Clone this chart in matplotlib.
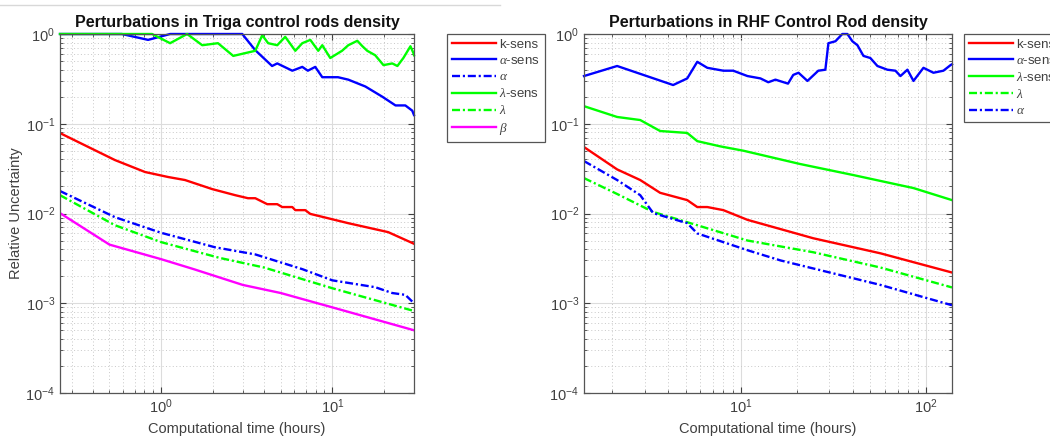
import numpy as np
import matplotlib
matplotlib.use("Agg")
from matplotlib import pyplot as plt
from matplotlib.lines import Line2D

plt.rcParams['font.family'] = ['Liberation Sans', 'DejaVu Sans']
plt.rcParams['mathtext.fontset'] = 'custom'
plt.rcParams['mathtext.rm'] = 'Liberation Sans'
plt.rcParams['mathtext.it'] = 'Liberation Serif:italic'
plt.rcParams['mathtext.default'] = 'regular'

# ---- Triga control rods (left) ----
tr_t_ksens = [0.257, 0.538, 0.806, 1.10, 1.38, 1.99, 2.71, 3.22, 3.55, 4.17, 4.77, 5.10, 5.84, 6.08, 6.95, 7.44, 12.4, 21.2, 30]
tr_ksens = [0.0787, 0.0394, 0.029, 0.0255, 0.0236, 0.0187, 0.016, 0.0148, 0.0148, 0.0127, 0.0127, 0.0118, 0.0118, 0.0109, 0.0109, 0.0099, 0.0078, 0.0062, 0.0046]

tr_t_asens = [0.257, 0.59, 0.84, 1.13, 2.98, 3.55, 4.45, 4.77, 5.84, 6.68, 7.2, 7.95, 8.74, 10.8, 12.4, 15.6, 19.6, 23.4, 26.7, 29.3, 30]
tr_asens = [1.0, 1.0, 0.86, 1.0, 1.0, 0.66, 0.44, 0.47, 0.39, 0.43, 0.39, 0.43, 0.33, 0.33, 0.31, 0.26, 0.20, 0.16, 0.16, 0.14, 0.125]

tr_t_alpha = [0.257, 0.538, 1.0, 2.07, 3.55, 6.68, 10.0, 17.8, 22.4, 26.7, 30]
tr_alpha = [0.0178, 0.0091, 0.0061, 0.0042, 0.0035, 0.0024, 0.0018, 0.00151, 0.0013, 0.00124, 0.00100]

tr_t_lsens = [0.257, 0.886, 1.129, 1.42, 1.74, 2.15, 2.64, 3.55, 3.90, 4.22, 4.77, 5.31, 6.08, 6.68, 7.44, 8.28, 8.74, 9.73, 11.4, 12.4, 14.0, 15.0, 16.0, 17.8, 19.9, 22.4, 24.0, 26.0, 28.6, 29.8, 30]
tr_lsens = [1.0, 1.0, 0.79, 1.0, 0.75, 0.79, 0.57, 0.65, 0.97, 0.79, 0.75, 0.93, 0.65, 0.79, 0.86, 0.65, 0.75, 0.54, 0.65, 0.75, 0.84, 0.73, 0.65, 0.58, 0.45, 0.47, 0.44, 0.54, 0.73, 0.61, 0.58]

tr_t_lam = [0.257, 0.538, 1.0, 2.2, 4.0, 10.0, 30]
tr_lam = [0.016, 0.0074, 0.0048, 0.0032, 0.0025, 0.00147, 0.00082]

tr_t_beta = [0.257, 0.50, 1.0, 1.55, 3.0, 5.0, 10.0, 30]
tr_beta = [0.0101, 0.0045, 0.0031, 0.0024, 0.0016, 0.0013, 0.0009, 0.0005]

# ---- RHF control rod (right) ----
rh_t_asens = [1.41, 2.13, 4.28, 5.10, 5.78, 6.55, 8.0, 9.05, 10.8, 12.7, 14.0, 15.3, 17.9, 19.1, 20.4, 22.8, 26.1, 28.5, 29.6, 32.3, 35.2, 37.5, 39.9, 42.5, 45.8, 49.9, 54.5, 61.7, 68.2, 72.6, 79.2, 85.4, 96.7, 109.5, 124, 135.5, 138]
rh_asens = [0.34, 0.44, 0.27, 0.32, 0.49, 0.42, 0.39, 0.39, 0.34, 0.32, 0.29, 0.31, 0.28, 0.35, 0.37, 0.30, 0.39, 0.40, 0.79, 0.83, 1.0, 1.0, 0.83, 0.75, 0.57, 0.54, 0.44, 0.40, 0.39, 0.34, 0.40, 0.30, 0.42, 0.37, 0.39, 0.45, 0.46]

rh_t_lsens = [1.41, 2.13, 2.84, 3.64, 5.10, 5.78, 7.69, 10.3, 20.8, 40.4, 85.4, 138]
rh_lsens = [0.157, 0.119, 0.11, 0.083, 0.079, 0.064, 0.056, 0.050, 0.0356, 0.0268, 0.0192, 0.0141]

rh_t_ksens = [1.41, 2.13, 2.84, 3.64, 5.10, 5.78, 6.55, 8.0, 10.8, 24.5, 56.6, 138]
rh_ksens = [0.055, 0.031, 0.0236, 0.017, 0.0141, 0.0118, 0.0118, 0.0109, 0.0085, 0.0053, 0.0036, 0.0022]

rh_t_lam = [1.41, 2.13, 3.34, 5.78, 10.8, 24.5, 56.6, 138]
rh_lam = [0.0248, 0.0165, 0.0104, 0.0074, 0.0050, 0.0037, 0.0025, 0.0015]

rh_t_alpha = [1.41, 2.13, 2.84, 3.34, 5.10, 5.78, 10.8, 16.3, 56.6, 138]
rh_alpha = [0.0384, 0.0236, 0.016, 0.0101, 0.0078, 0.006, 0.0039, 0.0030, 0.0016, 0.00095]

W, H = 1050, 442
fig = plt.figure(figsize=(W / 100, H / 100), dpi=100)

txt = '#404040'
lw = 1.7
dashdot = (0, (3.4, 1.2, 0.9, 1.2))


def style(ax, xlim):
    ax.set_xscale('log')
    ax.set_yscale('log')
    ax.set_xlim(*xlim)
    ax.set_ylim(1e-4, 1)
    ax.grid(True, which='major', color='#dcdcdc', lw=0.8, ls='-')
    ax.grid(True, which='minor', color='#c8c8c8', lw=0.7, ls=(0, (1, 2.5)))
    ax.set_axisbelow(True)
    ax.tick_params(which='both', direction='in', colors=txt, labelsize=10.5, top=True, right=True)
    ax.tick_params(which='major', length=4)
    ax.tick_params(which='minor', length=2)
    for s in ax.spines.values():
        s.set_color('#555555')
        s.set_linewidth(0.9)
    ax.set_xlabel('Computational time (hours)', fontsize=10.5, color=txt, labelpad=4)


def legend(ax, x0):
    leg = ax.legend(loc='upper left', bbox_to_anchor=(x0 / W, 1 - 34 / H), bbox_transform=fig.transFigure,
                    fontsize=9.5, frameon=True, fancybox=False, edgecolor='#555555', framealpha=1,
                    handlelength=3.4, handletextpad=0.2, borderpad=0.35, labelspacing=0.3, borderaxespad=0)
    leg.get_frame().set_linewidth(0.9)
    for t in leg.get_texts():
        t.set_color(txt)


# left axes
ax1 = fig.add_axes([60 / W, 1 - 393 / H, (414 - 60) / W, (393 - 34) / H])
ax1.plot(tr_t_ksens, tr_ksens, color='#ff0000', lw=lw, label='k-sens')
ax1.plot(tr_t_asens, tr_asens, color='#0000ff', lw=lw, label=r'$\mathit{\alpha}$-sens', clip_on=False)
ax1.plot(tr_t_alpha, tr_alpha, color='#0000ff', lw=lw, ls=dashdot, label=r'$\mathit{\alpha}$')
ax1.plot(tr_t_lsens, tr_lsens, color='#00ff00', lw=lw, label=r'$\mathit{\lambda}$-sens', clip_on=False)
ax1.plot(tr_t_lam, tr_lam, color='#00ff00', lw=lw, ls=dashdot, label=r'$\mathit{\lambda}$')
ax1.plot(tr_t_beta, tr_beta, color='#ff00ff', lw=lw, label=r'$\mathit{\beta}$')
style(ax1, (0.257, 30))
ax1.set_ylabel('Relative Uncertainty', fontsize=10.5, color=txt)
ax1.yaxis.set_label_coords(-0.105, 0.5)
ax1.set_title('Perturbations in Triga control rods density', fontsize=11.5, fontweight='bold', color='#111111', pad=5)
legend(ax1, 447)

# right axes
ax2 = fig.add_axes([584 / W, 1 - 393 / H, (952 - 584) / W, (393 - 34) / H])
ax2.plot(rh_t_ksens, rh_ksens, color='#ff0000', lw=lw, label='k-sens')
ax2.plot(rh_t_asens, rh_asens, color='#0000ff', lw=lw, label=r'$\mathit{\alpha}$-sens', clip_on=False)
ax2.plot(rh_t_lsens, rh_lsens, color='#00ff00', lw=lw, label=r'$\mathit{\lambda}$-sens')
ax2.plot(rh_t_lam, rh_lam, color='#00ff00', lw=lw, ls=dashdot, label=r'$\mathit{\lambda}$')
ax2.plot(rh_t_alpha, rh_alpha, color='#0000ff', lw=lw, ls=dashdot, label=r'$\mathit{\alpha}$')
style(ax2, (1.41, 138))
ax2.set_title('Perturbations in RHF Control Rod density', fontsize=11.5, fontweight='bold', color='#111111', pad=5)
legend(ax2, 964)

# faint line across the top of the screenshot
fig.add_artist(Line2D([0, 500 / W], [1 - 5 / H, 1 - 5 / H], transform=fig.transFigure, color='#d8d8d8', lw=1))

fig.savefig('out.png', dpi=100)
